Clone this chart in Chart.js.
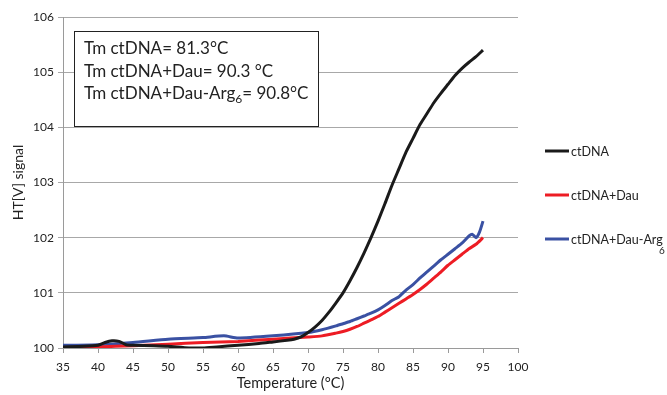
<!DOCTYPE html>
<html><head><meta charset="utf-8">
<script src="https://cdn.jsdelivr.net/npm/chart.js@4/dist/chart.umd.min.js"></script>
<style>html,body{margin:0;padding:0;background:#fff}#wrap{width:667px;height:395px}</style>
</head><body><div id="wrap"><canvas id="c" width="667" height="395"></canvas></div>
<script>
const seriesNames = ['ctDNA', 'ctDNA+Dau', 'ctDNA+Dau-Arg'];
const xTicks = [35,40,45,50,55,60,65,70,75,80,85,90,95,100];
const yTicks = [100,101,102,103,104,105,106];
const annotationLines = ['Tm ctDNA= 81.3°C', 'Tm ctDNA+Dau= 90.3 °C', 'Tm ctDNA+Dau-Arg'];

const tempBlack = [35,38,40,41,42,43,44,45,48,50,53,55,57,60,63,65,67,68,69,70,71,72,73,74,75,76,77,78,79,80,81,82,83,84,85,86,87,88,89,90,91,92,93,94,95];
const ctDNA     = [100.02,100.03,100.05,100.1,100.13,100.12,100.06,100.05,100.04,100.03,100.0,100.0,100.02,100.05,100.08,100.11,100.14,100.16,100.2,100.28,100.38,100.5,100.65,100.82,101.0,101.22,101.46,101.72,102.0,102.3,102.62,102.95,103.25,103.55,103.8,104.05,104.25,104.45,104.62,104.78,104.94,105.07,105.18,105.28,105.4];

const tempRed   = [35,40,45,50,55,60,65,70,72,74,75,76,77,78,79,80,81,82,83,84,85,86,87,88,89,90,91,92,93,94,95];
const ctDNADau  = [100.0,100.02,100.04,100.07,100.1,100.12,100.16,100.2,100.22,100.27,100.3,100.34,100.39,100.45,100.51,100.57,100.65,100.73,100.81,100.89,100.97,101.06,101.16,101.27,101.38,101.5,101.6,101.7,101.8,101.88,102.0];

const tempBlue  = [35,40,45,50,55,58,60,65,70,72,74,75,76,77,78,79,80,81,82,83,84,85,86,87,88,89,90,91,92,93,93.5,94,94.5,95];
const ctDNADauArg = [100.05,100.06,100.1,100.16,100.19,100.22,100.18,100.22,100.28,100.33,100.4,100.44,100.48,100.53,100.58,100.63,100.69,100.77,100.86,100.93,101.05,101.15,101.27,101.38,101.49,101.6,101.7,101.8,101.9,102.03,102.06,102.0,102.1,102.3];

const colors = ['#1a1a1a', '#ed1c24', '#3a51a3'];
const FONT = 'Lato';
function pts(xs, ys){ return xs.map((x,i)=>({x:x, y:ys[i]})); }

const overlay = {
  id:'overlay',
  afterDraw(chart){
    const ctx = chart.ctx;
    ctx.save();
    ctx.fillStyle = '#fff';
    ctx.fillRect(74.5, 31.5, 244, 95);
    ctx.strokeStyle = '#222';
    ctx.lineWidth = 1;
    ctx.strokeRect(74.5, 31.5, 244, 95);
    ctx.fillStyle = '#222';
    ctx.textBaseline = 'alphabetic';
    ctx.textAlign = 'left';
    ctx.font = '17px ' + FONT;
    const bx = 84, by = [54, 77, 99];
    ctx.fillText(annotationLines[0], bx, by[0]);
    ctx.fillText(annotationLines[1], bx, by[1]);
    ctx.fillText(annotationLines[2], bx, by[2]);
    let w = ctx.measureText(annotationLines[2]).width;
    ctx.font = '12px ' + FONT;
    ctx.fillText('6', bx + w, by[2] + 4);
    let w6 = ctx.measureText('6').width;
    ctx.font = '17px ' + FONT;
    ctx.fillText('= 90.8°C', bx + w + w6, by[2]);
    const ly = [151, 195, 239];
    ctx.font = '12.5px ' + FONT;
    ctx.textBaseline = 'middle';
    for (let i=0;i<3;i++){
      ctx.strokeStyle = colors[i];
      ctx.lineWidth = 3;
      ctx.beginPath(); ctx.moveTo(545, ly[i]); ctx.lineTo(569, ly[i]); ctx.stroke();
      ctx.fillStyle = '#222';
      ctx.fillText(seriesNames[i], 571, ly[i]+1);
    }
    ctx.font = '10px ' + FONT;
    ctx.fillText('6', 659, 251);
    ctx.restore();
  }
};

new Chart(document.getElementById('c'), {
  type:'line',
  data:{ datasets:[
    {label:seriesNames[0], data:pts(tempBlack, ctDNA), borderColor:colors[0], borderWidth:3, pointRadius:0, tension:0.2, fill:false},
    {label:seriesNames[1], data:pts(tempRed, ctDNADau), borderColor:colors[1], borderWidth:3, pointRadius:0, tension:0.2, fill:false},
    {label:seriesNames[2], data:pts(tempBlue, ctDNADauArg), borderColor:colors[2], borderWidth:3, pointRadius:0, tension:0.2, fill:false}
  ]},
  options:{
    responsive:false, animation:false, devicePixelRatio:1,
    layout:{padding:{left:0, right:149, top:17, bottom:0}},
    plugins:{legend:{display:false}, tooltip:{enabled:false}},
    scales:{
      x:{type:'linear', min:35, max:100,
        afterBuildTicks(s){ s.ticks = xTicks.map(v=>({value:v})); },
        afterFit(s){ s.height = 47; },
        grid:{display:true, drawOnChartArea:false, drawTicks:true, tickLength:5, color:'#9a9a9a'},
        border:{display:true, color:'#9a9a9a'},
        ticks:{font:{family:FONT, size:12}, color:'#222', padding:7, maxRotation:0, autoSkip:false},
        title:{display:true, text:'Temperature (°C)', font:{family:FONT, size:14.5}, color:'#222', padding:{top:2, bottom:3}}
      },
      y:{min:100, max:106,
        afterBuildTicks(s){ s.ticks = yTicks.map(v=>({value:v})); },
        afterFit(s){ s.width = 63; },
        grid:{color:'#a8a8a8', drawTicks:true, tickLength:5},
        border:{display:true, color:'#9a9a9a'},
        ticks:{font:{family:FONT, size:12}, color:'#222', padding:4},
        title:{display:true, text:'HT[V] signal', font:{family:FONT, size:14}, color:'#222', padding:{top:10, bottom:4}}
      }
    }
  },
  plugins:[overlay]
});
</script>
</body></html>
